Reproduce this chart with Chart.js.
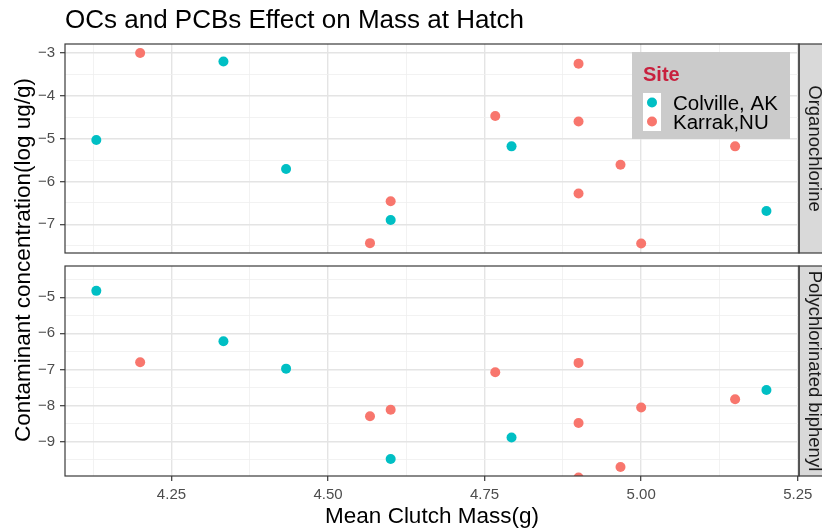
<!DOCTYPE html>
<html>
<head>
<meta charset="utf-8">
<title>OCs and PCBs Effect on Mass at Hatch</title>
<script src="https://cdn.jsdelivr.net/npm/chart.js@4.4.1/dist/chart.umd.min.js"></script>
<style>
  html, body { margin: 0; padding: 0; background: #ffffff; }
  #wrap { position: relative; width: 822px; height: 531px; }
</style>
</head>
<body>
<div id="wrap"><canvas id="massChart"></canvas></div>
<script>
// Colours (ggplot default hues + theme_bw greys)
const chartColors = {
  colville: '#00BFC4',
  karrak: '#F8766D',
  gridMajor: '#e4e4e4',
  gridMinor: '#efefef',
  border: '#3a3a3a',
  tickText: '#4d4d4d',
  strip: '#d9d9d9',
  stripText: '#1a1a1a',
  legendBox: '#cbcbcb',
  legendTitle: '#c8203e'
};
const FONT = "'Liberation Sans', Arial, Helvetica, sans-serif";

// Data
const siteLabels = ['Colville, AK', 'Karrak,NU'];
const panelLabels = ['Organochlorine', 'Polychlorinated biphenyl'];

const massColville = [4.13, 4.333, 4.433, 4.60, 4.793, 5.20];
const ocColville   = [-5.03, -3.20, -5.71, -6.90, -5.18, -6.69];
const pcbColville  = [-4.82, -6.22, -6.98, -9.49, -8.89, -7.57];

const massKarrak = [4.20, 4.567, 4.60, 4.767, 4.90, 4.90, 4.90, 4.967, 5.00, 5.15];
const ocKarrak   = [-3.00, -7.44, -6.46, -4.47, -3.25, -4.60, -6.28, -5.61, -7.45, -5.18];
const pcbKarrak  = [-6.80, -8.30, -8.12, -7.08, -6.82, -8.49, -10.0, -9.71, -8.06, -7.83];

// Ticks: majors get labels, minors only grid lines
const xMajor = [4.25, 4.5, 4.75, 5.0, 5.25];
const xMinor = [4.125, 4.375, 4.625, 4.875, 5.125];
const ocMajor = [-7, -6, -5, -4, -3];
const ocMinor = [-7.5, -6.5, -5.5, -4.5, -3.5];
const pcbMajor = [-9, -8, -7, -6, -5];
const pcbMinor = [-9.5, -8.5, -7.5, -6.5, -5.5, -4.5];

function points(xs, ys) {
  return xs.map((x, i) => ({ x: x, y: ys[i] }));
}

function setTicks(major, minor) {
  return function(scale) {
    scale.ticks = major.concat(minor).sort((a, b) => a - b).map(v => ({ value: v }));
  };
}

function isMajor(major, ctx) {
  return ctx.tick !== undefined && major.includes(ctx.tick.value);
}

function gridStyle(major) {
  return {
    color: ctx => isMajor(major, ctx) ? chartColors.gridMajor : chartColors.gridMinor,
    lineWidth: ctx => isMajor(major, ctx) ? 1.4 : 0.8,
    tickColor: ctx => isMajor(major, ctx) ? chartColors.border : 'rgba(0,0,0,0)',
    tickWidth: 1.2,
    tickLength: 5,
    drawTicks: true
  };
}

function yAxis(major, minor, min, max, weight, stackWeight) {
  return {
    type: 'linear',
    position: 'left',
    stack: 'facets',
    stackWeight: stackWeight,
    weight: weight,
    min: min,
    max: max,
    bounds: 'data',
    border: { display: false },
    grid: gridStyle(major),
    afterBuildTicks: setTicks(major, minor),
    afterFit: scale => { scale.width = 65; },
    ticks: {
      autoSkip: false,
      padding: 5,
      color: chartColors.tickText,
      font: { family: FONT, size: 15 },
      callback: v => major.includes(v) ? '\u2212' + Math.abs(v) : ''
    }
  };
}

// Facet panels, strips, y title and legend
const facetPlugin = {
  id: 'facets',
  beforeDatasetsDraw(chart) {
    const { ctx, chartArea } = chart;
    const top = chart.scales.yTop, bot = chart.scales.yBot;
    ctx.save();
    ctx.fillStyle = '#ffffff';
    ctx.fillRect(chartArea.left - 1, top.bottom, chart.width, bot.top - top.bottom);
    ctx.restore();
  },
  afterDatasetsDraw(chart) {
    const { ctx, chartArea } = chart;
    const panels = [chart.scales.yTop, chart.scales.yBot];
    ctx.save();
    panels.forEach((p, i) => {
      // strip
      ctx.fillStyle = chartColors.strip;
      ctx.fillRect(chartArea.right, p.top, chart.width - chartArea.right + 5, p.bottom - p.top);
      ctx.strokeStyle = chartColors.border;
      ctx.lineWidth = 1.2;
      ctx.strokeRect(chartArea.right, p.top, chart.width - chartArea.right + 5, p.bottom - p.top);
      ctx.save();
      ctx.beginPath();
      ctx.rect(chartArea.right, p.top + 1, chart.width, p.bottom - p.top - 2);
      ctx.clip();
      ctx.translate(chartArea.right + 10, (p.top + p.bottom) / 2);
      ctx.rotate(Math.PI / 2);
      ctx.fillStyle = chartColors.stripText;
      ctx.font = '18.5px ' + FONT;
      ctx.textAlign = 'center';
      ctx.textBaseline = 'alphabetic';
      ctx.fillText(panelLabels[i], 0, 0);
      ctx.restore();
      // panel border
      ctx.strokeStyle = chartColors.border;
      ctx.lineWidth = 1.2;
      ctx.strokeRect(chartArea.left, p.top, chartArea.right - chartArea.left, p.bottom - p.top);
    });
    ctx.restore();
  },
  afterDraw(chart) {
    const { ctx, chartArea } = chart;
    ctx.save();
    // shared y title
    ctx.translate(29.5, (chartArea.top + chartArea.bottom) / 2);
    ctx.rotate(-Math.PI / 2);
    ctx.fillStyle = '#000000';
    ctx.font = '22.5px ' + FONT;
    ctx.textAlign = 'center';
    ctx.textBaseline = 'alphabetic';
    ctx.fillText('Contaminant concentration(log ug/g)', 0, 0);
    ctx.restore();

    // legend inside the top panel
    const ds = chart.data.datasets;
    ctx.save();
    ctx.fillStyle = chartColors.legendBox;
    ctx.fillRect(632, 52, 158, 87);
    ctx.fillStyle = chartColors.legendTitle;
    ctx.font = 'bold 20px ' + FONT;
    ctx.textAlign = 'left';
    ctx.textBaseline = 'alphabetic';
    ctx.fillText('Site', 643, 81);
    ctx.fillStyle = '#ffffff';
    ctx.fillRect(643, 93, 18, 38);
    ctx.font = '20.5px ' + FONT;
    [0, 1].forEach(i => {
      const cy = 102.5 + i * 19;
      ctx.fillStyle = ds[i].backgroundColor;
      ctx.beginPath();
      ctx.arc(652, cy, 5, 0, Math.PI * 2);
      ctx.fill();
      ctx.fillStyle = '#000000';
      ctx.fillText(ds[i].label, 673, cy + 7.5);
    });
    ctx.restore();
  }
};

const pointStyle = { pointRadius: 5, pointHoverRadius: 5, borderWidth: 0, clip: 0 };

const massData = {
  datasets: [
    { label: siteLabels[0], data: points(massColville, ocColville), yAxisID: 'yTop',
      backgroundColor: chartColors.colville, ...pointStyle },
    { label: siteLabels[1], data: points(massKarrak, ocKarrak), yAxisID: 'yTop',
      backgroundColor: chartColors.karrak, ...pointStyle },
    { label: siteLabels[0], data: points(massColville, pcbColville), yAxisID: 'yBot',
      backgroundColor: chartColors.colville, ...pointStyle },
    { label: siteLabels[1], data: points(massKarrak, pcbKarrak), yAxisID: 'yBot',
      backgroundColor: chartColors.karrak, ...pointStyle }
  ]
};

const massOptions = {
  responsive: true,
  maintainAspectRatio: false,
  animation: false,
  events: [],
  layout: { padding: { left: 0, right: 23, top: 0, bottom: 0 } },
  scales: {
    x: {
      type: 'linear',
      position: 'bottom',
      min: 4.08,
      max: 5.252,
      bounds: 'data',
      border: { display: false },
      grid: gridStyle(xMajor),
      afterBuildTicks: setTicks(xMajor, xMinor),
      afterFit: scale => { scale.height = 55; },
      ticks: {
        autoSkip: false,
        maxRotation: 0,
        padding: 5,
        color: chartColors.tickText,
        font: { family: FONT, size: 15 },
        callback: v => xMajor.includes(v) ? v.toFixed(2) : ''
      },
      title: {
        display: true,
        text: 'Mean Clutch Mass(g)',
        color: '#000000',
        font: { family: FONT, size: 22.5 },
        padding: { top: 1, bottom: 1 }
      }
    },
    yBot: yAxis(pcbMajor, pcbMinor, -9.96, -4.13, 1, 210),
    yGap: { type: 'linear', position: 'left', stack: 'facets', stackWeight: 13, weight: 2,
            min: 0, max: 1, display: false },
    yTop: yAxis(ocMajor, ocMinor, -7.67, -2.79, 3, 209)
  },
  plugins: {
    legend: { display: false },
    tooltip: { enabled: false },
    title: {
      display: true,
      text: 'OCs and PCBs Effect on Mass at Hatch',
      align: 'start',
      fullSize: false,
      color: '#000000',
      font: { family: FONT, size: 26, weight: 'normal' },
      padding: { top: 5, bottom: 7.8 }
    }
  }
};

new Chart(document.getElementById('massChart'), {
  type: 'scatter',
  data: massData,
  options: massOptions,
  plugins: [facetPlugin]
});
</script>
</body>
</html>
